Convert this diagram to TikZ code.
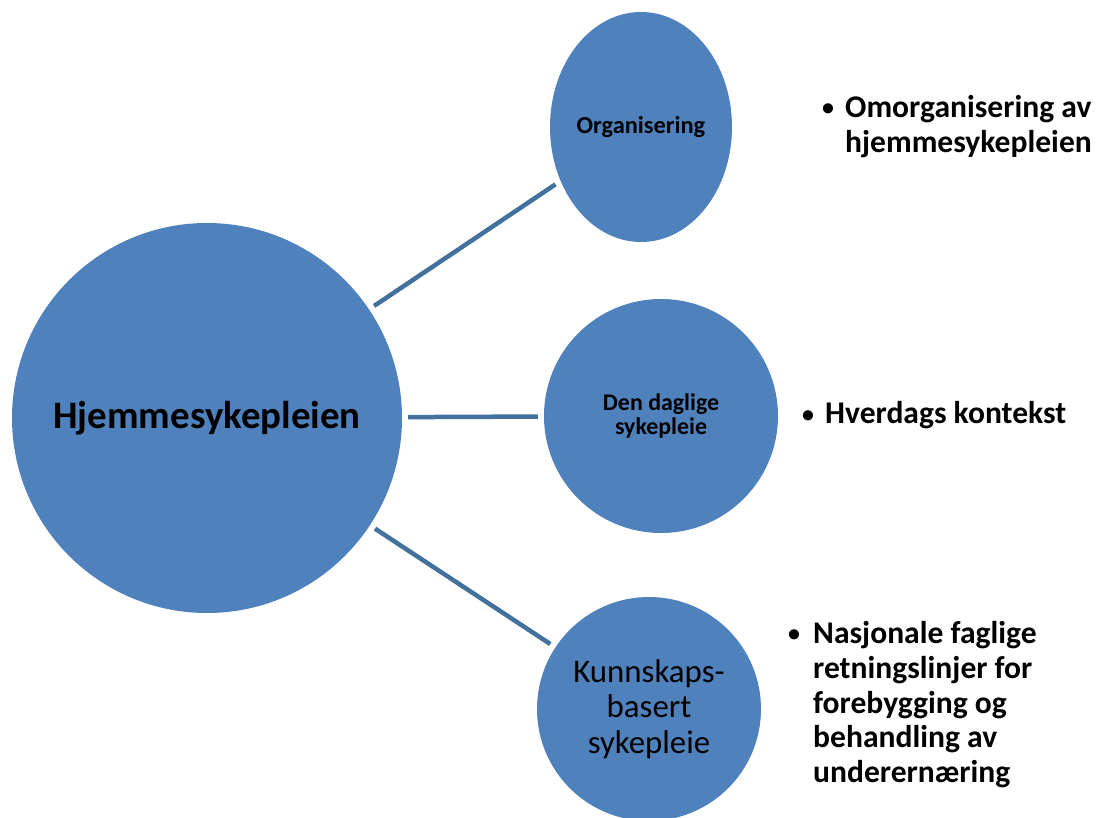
\documentclass[tikz,border=0pt]{standalone}
\usepackage{fontspec}
\setmainfont{Carlito}
\usetikzlibrary{shapes.geometric}
\definecolor{bubble}{HTML}{4F81BD}
\definecolor{linkc}{HTML}{41719C}
\tikzset{
  bub/.style={fill=bubble, draw=none, inner sep=0pt, align=center, text=black},
  link/.style={draw=linkc, line width=4.5bp, shorten >=6bp, shorten <=6bp},
  bul/.style={inner sep=0pt, anchor=north west, align=left, font=\fontsize{31.7}{35}\selectfont\bfseries},
  dot/.style={inner sep=0pt, font=\fontsize{24}{28}\selectfont\bfseries}
}
\begin{document}
\begin{tikzpicture}[x=1bp, y=-1bp]
\useasboundingbox (0,0) rectangle (1098,818);
\clip (0,0) rectangle (1098,818);
\node[bub, circle, minimum size=390bp, font=\fontsize{39}{42}\selectfont\bfseries] (hub) at (207,418) {Hjemmesykepleien};
\node[bub, ellipse, minimum width=182bp, minimum height=230bp, font=\fontsize{24.5}{26}\selectfont\bfseries] (org) at (641,127) {Organisering};
\node[bub, circle, minimum size=234bp, font=\fontsize{24}{25}\selectfont\bfseries] (dag) at (661,416) {Den daglige\\sykepleie};
\node[bub, circle, minimum size=224bp, font=\fontsize{33}{35.5}\selectfont] (kunn) at (649,709) {Kunnskaps-\\basert\\sykepleie};
\draw[link] (hub) -- (org);
\draw[link] (hub) -- (dag);
\draw[link] (hub) -- (kunn);
\node[dot] (b1) at (828,110) {•};
\node[bul] (t1) at (845,95) {Omorganisering av\\hjemmesykepleien};
\node[dot] (b2) at (808,417) {•};
\node[bul] (t2) at (825,401) {Hverdags kontekst};
\node[dot] (b3) at (794,636) {•};
\node[bul] (t3) at (813,621) {Nasjonale faglige\\retningslinjer for\\forebygging og\\behandling av\\underernæring};
\end{tikzpicture}
\end{document}
